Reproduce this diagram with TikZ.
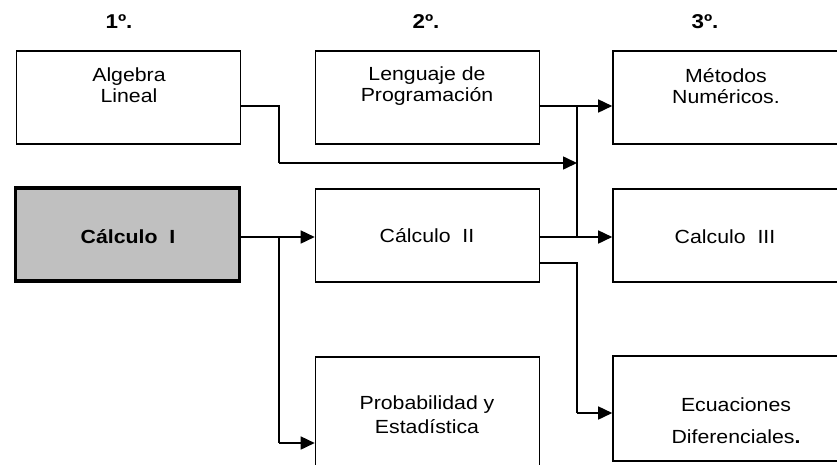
\documentclass[tikz,border=0pt]{standalone}
\usepackage{fontspec}
\setmainfont{Liberation Sans}[FakeStretch=1.12]
\usetikzlibrary{arrows.meta}
\definecolor{boxgrey}{RGB}{192,192,192}
\begin{document}
\begin{tikzpicture}[x=1pt,y=-1pt,
  box/.style={draw=black, line width=1.6pt, inner sep=0pt, minimum width=224pt, minimum height=93pt},
  mainbox/.style={box, line width=3.5pt, fill=boxgrey},
  lbl/.style={inner sep=0pt, align=center, font=\fontsize{19}{21}\selectfont},
  hdr/.style={inner sep=0pt, font=\fontsize{20}{22}\selectfont\bfseries},
  conn/.style={line width=1.6pt},
  arr/.style={conn, -{Triangle[length=14pt,width=13pt]}}]
\useasboundingbox (0,0) rectangle (837,464);
\clip (0,0) rectangle (837,464);
\fill[white] (0,0) rectangle (837,464);
% boxes
\node[box] (alg) at (128.5,97.5) {};
\node[box] (len) at (427.5,97.5) {};
\node[box, minimum width=230pt] (met) at (728,97.5) {};
\node[mainbox] (c1) at (127.5,234.5) {};
\node[box] (c2) at (427.5,235.5) {};
\node[box, minimum width=230pt] (c3) at (728,235.5) {};
\node[box, minimum height=130pt] (prob) at (427.5,422) {};
\node[box, minimum width=230pt, minimum height=105pt] (ecu) at (728,408.5) {};
% texts
\node[lbl] (talg) at (129,85) {Algebra\\Lineal};
\node[lbl] (tlen) at (427,86) {Lenguaje de\\Programación};
\node[lbl] (tmet) at (726,86) {Métodos\\Numéricos.};
\node[lbl, font=\fontsize{19}{21}\selectfont\bfseries] (tc1) at (128,237) {Cálculo\ \ I};
\node[lbl] (tc2) at (427,236) {Cálculo\ \ II};
\node[lbl] (tc3) at (725,237) {Calculo\ \ III};
\node[lbl, font=\fontsize{19}{24}\selectfont] (tprob) at (427,415) {Probabilidad y\\Estadística};
\node[lbl, font=\fontsize{19}{32}\selectfont] (tecu) at (736,421) {Ecuaciones\\Diferenciales\textbf{.}};
% headers
\node[hdr] (h1) at (119,21.5) {1º.};
\node[hdr] (h2) at (426,21.5) {2º.};
\node[hdr] (h3) at (705,21.5) {3º.};
% connector points
\coordinate (b1) at (279,106);
\coordinate (b2) at (279,163);
\coordinate (bus1) at (577,106);
\coordinate (bus2) at (577,163);
\coordinate (bus3) at (577,237);
\coordinate (s1) at (279,237);
\coordinate (s2) at (279,443);
\coordinate (d1) at (577,263);
\coordinate (d2) at (577,413);
% connectors
\draw[conn] (alg.east |- b1) -- (b1) -- (b2);
\draw[arr] (b2) -- (bus2);
\draw[arr] (len.east |- bus1) -- (met.west |- bus1);
\draw[conn] (bus1) -- (bus3);
\draw[arr] (c2.east |- bus3) -- (c3.west |- bus3);
\draw[arr] (c1.east |- s1) -- (c2.west |- s1);
\draw[conn] (s1) -- (s2);
\draw[arr] (s2) -- (prob.west |- s2);
\draw[conn] (c2.east |- d1) -- (d1) -- (d2);
\draw[arr] (d2) -- (ecu.west |- d2);
\end{tikzpicture}
\end{document}
